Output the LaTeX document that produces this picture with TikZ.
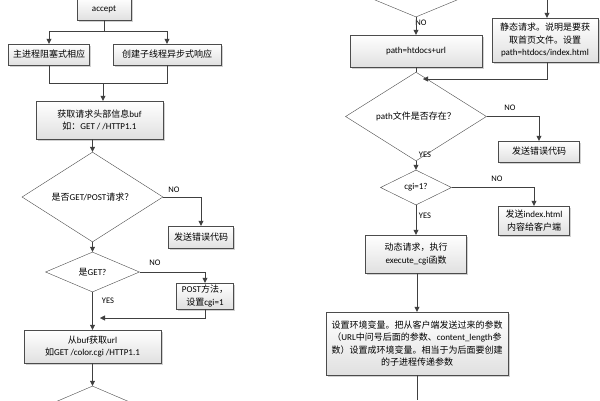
\documentclass[tikz,border=0pt]{standalone}
\usepackage{fontspec}
\setmainfont{Carlito}
\newfontfamily\zh{Noto Sans CJK SC}
\usetikzlibrary{shapes.geometric,arrows.meta,shadows}
\tikzset{
  box/.style={draw=black!70, top color=white, bottom color=black!12, align=center,
    inner sep=1pt, font=\fontsize{9}{12.5}\selectfont,
    drop shadow={shadow xshift=1.5pt, shadow yshift=-1.5pt, opacity=.3, fill=black!60}},
  dia/.style={diamond, draw=black!70, fill=white, inner sep=0pt, align=center,
    font=\fontsize{9}{12.5}\selectfont},
  arr/.style={draw=black!75, -{Triangle[length=5pt,width=5pt]}},
  line/.style={draw=black!75},
  lbl/.style={font=\fontsize{8.5}{10}\selectfont, inner sep=1pt}
}
\begin{document}
\begin{tikzpicture}[x=1pt,y=-1pt]
\useasboundingbox (0,0) rectangle (600,400);
\clip (0,0) rectangle (600,400);
% left column
\node[box, minimum width=54, minimum height=22] (accept) at (104,9) {accept};
\node[box, minimum width=81, minimum height=21] (main) at (49,54.5) {\zh 主进程阻塞式相应};
\node[box, minimum width=108, minimum height=21] (thread) at (167,54.5) {\zh 创建子线程异步式响应};
\node[box, minimum width=127, minimum height=38] (info) at (99.5,120) {{\zh 获取请求头部信息}buf\\{\zh 如：}GET / /HTTP1.1};
\node[dia, minimum width=141, minimum height=64] (getpost) at (92.5,197) {{\zh 是否}GET/POST{\zh 请求？}};
\node[box, minimum width=65, minimum height=22] (err1) at (201,237) {\zh 发送错误代码};
\node[dia, minimum width=94, minimum height=40] (isget) at (92.5,272) {{\zh 是}GET?};
\node[box, minimum width=57, minimum height=26] (post) at (205,296) {POST{\zh 方法，}\\{\zh 设置}cgi=1};
\node[box, minimum width=137, minimum height=33] (url) at (92.5,346.5) {{\zh 从}buf{\zh 获取}url\\{\zh 如}GET /color.cgi /HTTP1.1};
\node[dia, minimum width=140, minimum height=60] (next) at (92.5,416) {};
% right column
\node[dia, minimum width=140, minimum height=58] (top) at (416,-12) {};
\node[box, minimum width=132, minimum height=32] (path) at (416,51) {path=htdocs+url};
\node[box, minimum width=106, minimum height=44] (static) at (545,40) {\zh 静态请求。说明是要获\\\zh 取首页文件。设置\\path=htdocs/index.html};
\node[dia, minimum width=141, minimum height=57] (exist) at (416,116.5) {path{\zh 文件是否存在？}};
\node[box, minimum width=81, minimum height=21] (err2) at (539,151.5) {\zh 发送错误代码};
\node[dia, minimum width=71, minimum height=35] (cgi) at (416,187.5) {cgi=1?};
\node[box, minimum width=71, minimum height=29] (index) at (534,220.5) {{\zh 发送}index.html\\\zh 内容给客户端};
\node[box, minimum width=101, minimum height=38] (dyn) at (416,254) {{\zh 动态请求，执行}\\execute\_cgi{\zh 函数}};
\node[box, minimum width=182, minimum height=63] (env) at (417,343.5) {{\zh 设置环境变量。把从客户端发送过来的参数}\\{\zh （}URL{\zh 中问号后面的参数、}content\_length{\zh 参}\\\zh 数）设置成环境变量。相当于为后面要创建\\\zh 的子进程传递参数};
% labels
\node[lbl] (no1) at (174,190) {NO};
\node[lbl] (no2) at (155,263) {NO};
\node[lbl] (yes1) at (108,301) {YES};
\node[lbl] (no3) at (421,23) {NO};
\node[lbl] (no4) at (510,108) {NO};
\node[lbl] (yes2) at (425,155) {YES};
\node[lbl] (no5) at (497,179) {NO};
\node[lbl] (yes3) at (425,216) {YES};
% helper points
\coordinate (fork) at (104,31);
\coordinate (join) at (103,83);
\coordinate (back1) at (100,318);
\coordinate (intop) at (547,0);
\coordinate (back2) at (423,79);
\coordinate (out) at (417,400);
% connectors
\draw[line] (accept.south) -- (fork);
\draw[arr] (fork) -| (main.north);
\draw[arr] (fork) -| (thread.north);
\draw[line] (main.south) |- (join);
\draw[line] (thread.south) |- (join);
\draw[arr] (join) -- (join |- info.north);
\draw[arr] (info.south -| getpost.north) -- (getpost.north);
\draw[arr] (getpost.east) -| (err1.north);
\draw[arr] (getpost.south) -- (isget.north);
\draw[arr] (isget.east) -| (post.north);
\draw[arr] (post.south) |- (back1);
\draw[arr] (isget.south) -- (url.north);
\draw[arr] (url.south) -- (next.north);
\draw[arr] (top.south) -- (path.north);
\draw[arr] (intop) -- (intop |- static.north);
\draw[arr] (static.south -| intop) |- (back2);
\draw[line] (path.south) -- (exist.north);
\draw[arr] (exist.east) -| (err2.north);
\draw[arr] (exist.south) -- (cgi.north);
\draw[arr] (cgi.east) -| (index.north);
\draw[arr] (cgi.south) -- (dyn.north);
\draw[arr] (dyn.south -| env.north) -- (env.north);
\draw[line] (env.south) -- (out);
\end{tikzpicture}
\end{document}
